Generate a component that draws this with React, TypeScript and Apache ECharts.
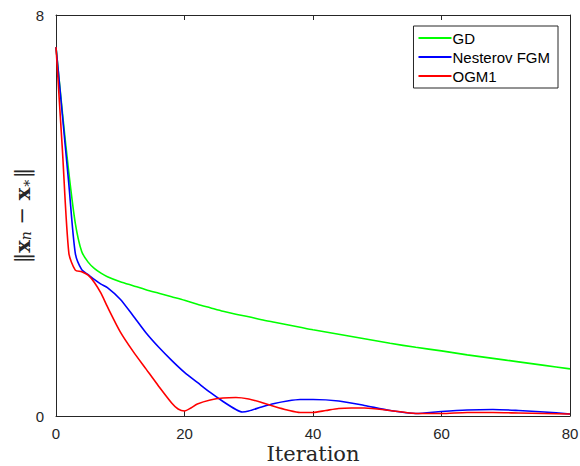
import React, { useEffect, useRef } from "react";
import * as echarts from "echarts";

const xTicks = [0, 20, 40, 60, 80];
const yTicks = [0, 8];

const gdIter = [0, 1, 2, 3, 4, 5, 6, 7, 8, 10, 12, 14, 16, 18, 20, 22, 24, 26, 28, 30, 32, 34, 36, 38, 40, 44, 48, 52, 56, 60, 64, 68, 72, 76, 80];
const gdVal = [7.36, 6.05, 4.85, 3.85, 3.28, 3.07, 2.94, 2.85, 2.78, 2.68, 2.6, 2.52, 2.45, 2.38, 2.31, 2.23, 2.16, 2.09, 2.03, 1.98, 1.92, 1.87, 1.82, 1.77, 1.72, 1.63, 1.54, 1.45, 1.37, 1.3, 1.22, 1.15, 1.08, 1.01, 0.94];

const fgmIter = [0, 1, 2, 3, 4, 5, 6, 7, 8, 10, 12, 14, 16, 18, 20, 22, 24, 26, 28, 29, 30, 32, 34, 36, 38, 40, 44, 48, 52, 56, 60, 64, 68, 72, 76, 80];
const fgmVal = [7.36, 6.0, 4.62, 3.25, 2.92, 2.82, 2.72, 2.63, 2.56, 2.33, 2.0, 1.66, 1.37, 1.11, 0.87, 0.67, 0.47, 0.29, 0.13, 0.08, 0.1, 0.18, 0.25, 0.3, 0.33, 0.33, 0.3, 0.21, 0.11, 0.05, 0.09, 0.12, 0.13, 0.11, 0.08, 0.04];

const ogmIter = [0, 1, 2, 3, 4, 5, 6, 7, 8, 10, 12, 14, 16, 18, 19, 20, 21, 22, 24, 26, 28, 30, 32, 34, 36, 38, 40, 42, 44, 46, 48, 52, 56, 60, 64, 68, 72, 76, 80];
const ogmVal = [7.36, 5.3, 3.25, 2.91, 2.88, 2.81, 2.66, 2.45, 2.18, 1.68, 1.29, 0.94, 0.59, 0.26, 0.14, 0.1, 0.16, 0.24, 0.32, 0.36, 0.37, 0.34, 0.27, 0.19, 0.12, 0.07, 0.07, 0.11, 0.15, 0.16, 0.16, 0.11, 0.05, 0.05, 0.07, 0.07, 0.06, 0.05, 0.04];

const seriesNames = ["GD", "Nesterov FGM", "OGM1"];
const seriesColors = ["#00ff00", "#0000ff", "#ff0000"];

const zip = (xs: number[], ys: number[]) => xs.map((x, i) => [x, ys[i]]);

export default function App() {
  const ref = useRef<HTMLDivElement>(null);
  useEffect(() => {
    if (!ref.current) return;
    const chart = echarts.init(ref.current, undefined, { renderer: "svg" });
    const axisColor = "#262626";
    const labelFont = "'Liberation Sans', Arial, sans-serif";
    const dataSets = [zip(gdIter, gdVal), zip(fgmIter, fgmVal), zip(ogmIter, ogmVal)];
    chart.setOption({
      animation: false,
      backgroundColor: "#ffffff",
      grid: { left: 56, right: 10, top: 15, bottom: 50, containLabel: false, outerBoundsMode: "none" },
      legend: {
        orient: "vertical",
        right: 22,
        top: 26,
        data: seriesNames,
        icon: "rect",
        itemWidth: 33,
        itemHeight: 2,
        itemGap: 3,
        padding: [4, 8, 4, 5],
        borderColor: "#262626",
        borderWidth: 1,
        borderRadius: 0,
        backgroundColor: "#ffffff",
        textStyle: { fontFamily: labelFont, fontSize: 15, lineHeight: 16, color: "#000000", padding: [0, 0, 0, -4] },
      },
      xAxis: [
        {
          type: "value",
          min: 0,
          max: 80,
          interval: 20,
          position: "bottom",
          name: "Iteration",
          nameLocation: "middle",
          nameGap: 27,
          nameMoveOverlap: false,
          nameTextStyle: { fontFamily: "'DejaVu Serif', serif", fontSize: 21, lineHeight: 21, color: "#262626" },
          axisLine: { show: true, onZero: false, lineStyle: { color: axisColor, width: 1 } },
          axisTick: { show: true, inside: true, length: 5, lineStyle: { color: axisColor } },
          axisLabel: {
            fontFamily: labelFont,
            fontSize: 15,
            color: axisColor,
            margin: 10,
            formatter: (v: number) => (xTicks.includes(v) ? String(v) : ""),
          },
          splitLine: { show: false },
        },
        {
          type: "value",
          min: 0,
          max: 80,
          interval: 20,
          position: "top",
          axisLine: { show: true, onZero: false, lineStyle: { color: axisColor, width: 1 } },
          axisTick: { show: true, inside: true, length: 5, lineStyle: { color: axisColor } },
          axisLabel: { show: false },
          splitLine: { show: false },
        },
      ],
      yAxis: [
        {
          type: "value",
          min: 0,
          max: 8,
          interval: 8,
          position: "left",
          name: "{d|‖}{b|x}{s|n}{d| − }{b|x}{s|∗}{d|‖}",
          nameLocation: "middle",
          nameGap: 23,
          nameMoveOverlap: false,
          nameRotate: 90,
          nameTextStyle: {
            color: "#262626",
            rich: {
              d: { fontFamily: "'DejaVu Serif', serif", fontSize: 21, color: "#262626" },
              b: { fontFamily: "'DejaVu Serif', serif", fontSize: 21, fontWeight: "bold", color: "#262626" },
              s: { fontFamily: "'DejaVu Serif', serif", fontSize: 14, fontStyle: "italic", color: "#262626", padding: [8, 0, 0, 0] },
            },
          },
          axisLine: { show: true, onZero: false, lineStyle: { color: axisColor, width: 1 } },
          axisTick: { show: true, inside: true, length: 5, lineStyle: { color: axisColor } },
          axisLabel: {
            fontFamily: labelFont,
            fontSize: 15,
            color: axisColor,
            margin: 12,
            formatter: (v: number) => (yTicks.includes(v) ? String(v) : ""),
          },
          splitLine: { show: false },
        },
        {
          type: "value",
          min: 0,
          max: 8,
          interval: 8,
          position: "right",
          axisLine: { show: true, onZero: false, lineStyle: { color: axisColor, width: 1 } },
          axisTick: { show: false },
          axisLabel: { show: false },
          splitLine: { show: false },
        },
      ],
      series: seriesNames.map((name, i) => ({
        name,
        type: "line",
        xAxisIndex: 0,
        yAxisIndex: 0,
        data: dataSets[i],
        symbol: "none",
        smooth: 0.25,
        lineStyle: { color: seriesColors[i], width: 1.6 },
        itemStyle: { color: seriesColors[i] },
        z: 2 + i,
      })),
    });
    return () => chart.dispose();
  }, []);
  return <div ref={ref} style={{ width: 580, height: 466, position: "fixed", left: 0, top: 0 }} />;
}
